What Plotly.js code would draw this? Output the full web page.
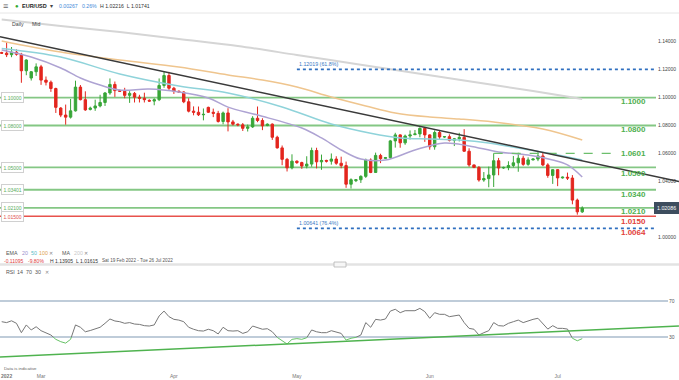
<!DOCTYPE html>
<html><head><meta charset="utf-8">
<script src="https://cdn.plot.ly/plotly-3.0.1.min.js"></script>
<style>html,body{margin:0;padding:0;background:#fff;}#chart{width:679px;height:380px;}</style>
</head><body><div id="chart"></div>
<script>
// ---------- DATA ----------
const dates = [
'2022-02-20','2022-02-21','2022-02-22','2022-02-23','2022-02-24','2022-02-25',
'2022-02-27','2022-02-28','2022-03-01','2022-03-02','2022-03-03','2022-03-04',
'2022-03-06','2022-03-07','2022-03-08','2022-03-09','2022-03-10','2022-03-11',
'2022-03-13','2022-03-14','2022-03-15','2022-03-16','2022-03-17','2022-03-18',
'2022-03-20','2022-03-21','2022-03-22','2022-03-23','2022-03-24','2022-03-25',
'2022-03-27','2022-03-28','2022-03-29','2022-03-30','2022-03-31','2022-04-01',
'2022-04-03','2022-04-04','2022-04-05','2022-04-06','2022-04-07','2022-04-08',
'2022-04-10','2022-04-11','2022-04-12','2022-04-13','2022-04-14','2022-04-15',
'2022-04-17','2022-04-18','2022-04-19','2022-04-20','2022-04-21','2022-04-22',
'2022-04-24','2022-04-25','2022-04-26','2022-04-27','2022-04-28','2022-04-29',
'2022-05-01','2022-05-02','2022-05-03','2022-05-04','2022-05-05','2022-05-06',
'2022-05-08','2022-05-09','2022-05-10','2022-05-11','2022-05-12','2022-05-13',
'2022-05-15','2022-05-16','2022-05-17','2022-05-18','2022-05-19','2022-05-20',
'2022-05-22','2022-05-23','2022-05-24','2022-05-25','2022-05-26','2022-05-27',
'2022-05-29','2022-05-30','2022-05-31','2022-06-01','2022-06-02','2022-06-03',
'2022-06-05','2022-06-06','2022-06-07','2022-06-08','2022-06-09','2022-06-10',
'2022-06-12','2022-06-13','2022-06-14','2022-06-15','2022-06-16','2022-06-17',
'2022-06-19','2022-06-20','2022-06-21','2022-06-22','2022-06-23','2022-06-24',
'2022-06-26','2022-06-27','2022-06-28','2022-06-29','2022-06-30','2022-07-01',
'2022-07-03','2022-07-04','2022-07-05','2022-07-06','2022-07-07'];

const open = [
1.1322,1.1318,1.1307,1.1325,1.1310,1.1192, 1.1140,1.1185,1.1220,1.1125,1.1110,1.1065,
1.0925,1.0875,1.0860,1.0905,1.1075,1.0985, 1.0915,1.0925,1.0940,1.0965,1.1033,1.1094,
1.1050,1.1045,1.1016,1.1030,1.1003,1.0995, 1.0980,1.0975,1.0985,1.1087,1.1158,1.1067,
1.1046,1.1040,1.0970,1.0903,1.0895,1.0877, 1.0930,1.0895,1.0887,1.0829,1.0890,1.0826,
1.0810,1.0805,1.0780,1.0790,1.0852,1.0836, 1.0800,1.0810,1.0716,1.0640,1.0558,1.0497,
1.0545,1.0535,1.0510,1.0524,1.0621,1.0540, 1.0550,1.0545,1.0560,1.0530,1.0513,1.0380,
1.0405,1.0412,1.0436,1.0553,1.0464,1.0586, 1.0565,1.0570,1.0690,1.0733,1.0676,1.0725,
1.0735,1.0740,1.0780,1.0733,1.0648,1.0750, 1.0718,1.0720,1.0694,1.0705,1.0715,1.0616,
1.0518,1.0500,1.0410,1.0420,1.0446,1.0548, 1.0496,1.0500,1.0514,1.0533,1.0566,1.0522,
1.0554,1.0560,1.0582,1.0518,1.0443,1.0484, 1.0425,1.0430,1.0424,1.0266,1.0182];
const high = [
1.1328,1.1395,1.1362,1.1345,1.1320,1.1274, 1.1190,1.1245,1.1234,1.1151,1.1122,1.1071,
1.0932,1.0950,1.0990,1.1121,1.1090,1.1045, 1.0935,1.0985,1.1020,1.1040,1.1137,1.1115,
1.1058,1.1070,1.1046,1.1040,1.1020,1.1035, 1.0988,1.0995,1.1137,1.1185,1.1184,1.1077,
1.1050,1.1045,1.0995,1.0937,1.0936,1.0922, 1.0935,1.0921,1.0905,1.0900,1.0924,1.0840,
1.0815,1.0818,1.0807,1.0867,1.0936,1.0852, 1.0815,1.0815,1.0727,1.0657,1.0568,1.0594,
1.0550,1.0541,1.0580,1.0642,1.0641,1.0592, 1.0555,1.0600,1.0580,1.0577,1.0542,1.0422,
1.0415,1.0444,1.0563,1.0565,1.0606,1.0598, 1.0575,1.0697,1.0748,1.0737,1.0735,1.0765,
1.0768,1.0787,1.0786,1.0737,1.0765,1.0764, 1.0725,1.0737,1.0711,1.0748,1.0774,1.0637,
1.0520,1.0510,1.0467,1.0506,1.0601,1.0568, 1.0505,1.0544,1.0582,1.0605,1.0584,1.0572,
1.0565,1.0615,1.0606,1.0530,1.0488,1.0488, 1.0435,1.0463,1.0445,1.0277,1.02216];
const low = [
1.1312,1.1290,1.1289,1.1300,1.1106,1.1160, 1.1122,1.1155,1.1091,1.1087,1.1041,1.0890,
1.0860,1.0806,1.0850,1.0900,1.0980,1.0905, 1.0908,1.0905,1.0930,1.0940,1.1020,1.1005,
1.1040,1.0995,1.0962,1.0965,1.0965,1.0965, 1.0970,1.0945,1.0975,1.1070,1.1055,1.1026,
1.1035,1.0960,1.0894,1.0873,1.0868,1.0837, 1.0890,1.0860,1.0821,1.0809,1.0758,1.0800,
1.0795,1.0761,1.0757,1.0783,1.0824,1.0767, 1.0795,1.0697,1.0635,1.0516,1.0471,1.0486,
1.0525,1.0490,1.0493,1.0505,1.0493,1.0483, 1.0535,1.0520,1.0519,1.0494,1.0354,1.0349,
1.0395,1.0389,1.0425,1.0459,1.0462,1.0531, 1.0560,1.0560,1.0642,1.0641,1.0662,1.0700,
1.0730,1.0716,1.0683,1.0627,1.0627,1.0704, 1.0712,1.0686,1.0653,1.0686,1.0612,1.0505,
1.0495,1.0398,1.0397,1.0358,1.0360,1.0444, 1.0490,1.0480,1.0500,1.0469,1.0512,1.0512,
1.0550,1.0545,1.0509,1.0426,1.0382,1.0366, 1.0420,1.0410,1.0236,1.0162,1.01741];
const close = [
1.1318,1.1307,1.1325,1.1310,1.1192,1.1269, 1.1185,1.1220,1.1125,1.1110,1.1065,1.0930,
1.0875,1.0860,1.0905,1.1075,1.0985,1.0912, 1.0925,1.0940,1.0965,1.1033,1.1094,1.1050,
1.1045,1.1016,1.1030,1.1003,1.0995,1.0985, 1.0975,1.0985,1.1087,1.1158,1.1067,1.1046,
1.1040,1.0970,1.0903,1.0895,1.0877,1.0880, 1.0895,1.0887,1.0829,1.0890,1.0826,1.0810,
1.0805,1.0780,1.0790,1.0852,1.0836,1.0798, 1.0810,1.0716,1.0640,1.0558,1.0497,1.0545,
1.0535,1.0510,1.0524,1.0621,1.0540,1.0550, 1.0545,1.0560,1.0530,1.0513,1.0380,1.0412,
1.0412,1.0436,1.0553,1.0464,1.0586,1.0563, 1.0570,1.0690,1.0733,1.0676,1.0725,1.0733,
1.0740,1.0780,1.0733,1.0648,1.0750,1.0718, 1.0720,1.0694,1.0705,1.0715,1.0616,1.0518,
1.0500,1.0410,1.0420,1.0446,1.0548,1.0496, 1.0500,1.0514,1.0533,1.0566,1.0522,1.0554,
1.0560,1.0582,1.0518,1.0443,1.0484,1.0425, 1.0430,1.0424,1.0266,1.0182,1.02086];

const rsi = [
47,46,48,45.2,34.8,43.4, 37.8,41.4,37,34.8,32.2,27.4,
24.8,23.2,27.4,43.4,40.8,35.8, 37.2,38.6,40.8,45.2,50,47.8,
47,45.2,46,44.4,44,42.6, 42.2,43.4,53.4,58.8,52.6,49.6,
48.8,47,40.8,38.6,37,36.6, 38.6,37,33.4,40.8,37,36.6,
37,34,35.8,42.2,40.8,38.6, 39.2,35.8,29.6,25.8,22.2,27.4,
28.2,27.4,29.2,37.8,35.8,34.8, 34.8,37,35.6,34,26.6,28.6,
29.6,32.2,46,40.8,49.6,48.8, 50,58.8,60.8,57,59.2,59.2,
59.2,61.8,58.2,50.8,57,55.2, 55.2,52.6,53.4,54.4,46,39.6,
38.6,32.2,34.8,37,46,42.6, 42.2,45.2,47,48.8,46,48.2,
49.6,50.8,45.2,38.8,42.6,39.6, 39.6,38.8,28.6,25.8,28.2];

const ema20Dates = ['2022-02-20','2022-02-27','2022-03-06','2022-03-10','2022-03-15','2022-03-20','2022-03-27','2022-04-03','2022-04-10','2022-04-14','2022-04-21','2022-05-02','2022-05-06','2022-05-11','2022-05-16','2022-05-22','2022-05-29','2022-06-05','2022-06-10','2022-06-17','2022-06-24','2022-06-30','2022-07-04','2022-07-07'];
const ema20 = [1.1341,1.1290,1.1212,1.1140,1.1090,1.1054,1.1061,1.1040,1.0997,1.0932,1.0875,1.0782,1.0711,1.0625,1.0560,1.0553,1.0625,1.0675,1.0654,1.0611,1.0589,1.0553,1.0518,1.0432];
const ema50Dates = ['2022-02-20','2022-03-06','2022-03-20','2022-04-03','2022-04-14','2022-04-27','2022-05-09','2022-05-18','2022-05-25','2022-06-01','2022-06-08','2022-06-15','2022-06-22','2022-06-29','2022-07-07'];
const ema50 = [1.1351,1.1290,1.1169,1.1083,1.1033,1.0933,1.0811,1.0745,1.0711,1.0704,1.0696,1.0675,1.0639,1.0603,1.0553];
const ema100Dates = ['2022-02-20','2022-03-06','2022-03-20','2022-04-03','2022-04-14','2022-04-22','2022-05-01','2022-05-09','2022-05-17','2022-05-24','2022-06-01','2022-06-08','2022-06-16','2022-06-28','2022-07-07'];
const ema100 = [1.1405,1.1326,1.1269,1.1219,1.1162,1.1126,1.1076,1.1004,1.0940,1.0890,1.0861,1.0847,1.0825,1.0775,1.0696];
const ma200Dates = ['2022-02-20','2022-03-06','2022-03-20','2022-04-03','2022-04-17','2022-05-01','2022-05-15','2022-05-29','2022-06-12','2022-06-26','2022-07-07'];
const ma200 = [1.1559,1.1512,1.1469,1.1419,1.1369,1.1305,1.1240,1.1176,1.1112,1.1047,1.0990];

// horizontal levels
const greenLevels = [1.10000,1.08000,1.05000,1.03401,1.02100];
const greenLeftTags = ['1.10000','1.08000','1.05000','1.03401','1.02100'];
const redLevel = 1.01500, redLeftTag = '1.01500';
const rightLabels = ['1.1000','1.0800','1.0601','1.0500','1.0340','1.0210','1.0150','1.0064'];
const rightLabelPrices = [1.1000,1.0800,1.0601,1.0500,1.0340,1.0210,1.0150,1.0064];
const dashedLevel = 1.0601, dashedFrom = 100, dashedTo = 124.6;     // candle index span
const fibPrices = [1.12019, 1.00641];
const fibTags = ['1.12019 (61.8%)', '1.00641 (76.4%)'];
const fibFrom = 60;
const trendPrice = [1.1435, 1.0400], trendIdx = [-0.3455, 137.66];
const rsiTrend = [7.8, 42.2];
const lastPrice = 1.02086;
const priceTicks = [1.00,1.04,1.06,1.08,1.10,1.12,1.14];
const monthTicks = ['2022-02-21','2022-03-01','2022-04-01','2022-05-01','2022-06-01','2022-07-01'];
const monthText = ['<b>2022</b>','Mar','Apr','May','Jun','Jul'];

// ---------- GEOMETRY ----------
const PW = 652, PB = 368, PH = 354;
const XR = [-0.3455, 132.18];
const YR = [0.98016, 1.15983];
const MD = [0.29096, 1];
const RU = [0.08757, 0.28249], RR = [30, 106.667];
const RL = [0, 0.08757], RLR = [-4.444, 30];
const F = 'Liberation Sans, Arial, sans-serif';
const xp = i => (i - XR[0]) / (XR[1] - XR[0]);
const yp = p => MD[0] + (p - YR[0]) / (YR[1] - YR[0]) * (MD[1] - MD[0]);
const yr = v => RU[0] + (v - RR[0]) / (RR[1] - RR[0]) * (RU[1] - RU[0]);
const px = x => x / PW;
const py = y => (PB - y) / PH;

const GREEN = '#38a638', RED = '#e3261e';
const traces = [
  {type:'candlestick', x:dates, open, high, low, close, xaxis:'x', yaxis:'y',
   increasing:{line:{color:GREEN,width:1},fillcolor:GREEN},
   decreasing:{line:{color:RED,width:1},fillcolor:RED}, whiskerwidth:0, hoverinfo:'skip'},
  {type:'scatter', mode:'lines', x:ma200Dates, y:ma200, line:{color:'#d5d5d5',width:2,shape:'spline'}, xaxis:'x', yaxis:'y'},
  {type:'scatter', mode:'lines', x:ema100Dates, y:ema100, line:{color:'#efc58e',width:1.5,shape:'spline'}, xaxis:'x', yaxis:'y'},
  {type:'scatter', mode:'lines', x:ema50Dates, y:ema50, line:{color:'#8fd3da',width:1.5,shape:'spline'}, xaxis:'x', yaxis:'y'},
  {type:'scatter', mode:'lines', x:ema20Dates, y:ema20, line:{color:'#aea3d3',width:1.5,shape:'spline'}, xaxis:'x', yaxis:'y'},
  {type:'scatter', mode:'lines', x:dates, y:rsi, line:{color:'#777',width:1}, xaxis:'x', yaxis:'y2'},
  {type:'scatter', mode:'lines', x:dates, y:rsi, line:{color:'#66c266',width:1}, xaxis:'x', yaxis:'y3'}
];

const shapes = [];
const L = (x0,y0,x1,y1,color,width,dash,layer) => shapes.push({type:'line',xref:'paper',yref:'paper',x0,y0,x1,y1,line:{color,width,dash:dash||'solid'},layer:layer||'above'});
L(0, py(13), 679/PW, py(13), '#e6e6e6', 1);
L(0, py(264.5), 679/PW, py(264.5), '#e3e3e3', 2.5);
shapes.push({type:'rect',xref:'paper',yref:'paper',x0:px(334),x1:px(346),y0:py(267),y1:py(262),fillcolor:'#f6f6f6',line:{color:'#b5b5b5',width:0.8}});
L(0, yr(70), 668/PW, yr(70), '#bfccd9', 2, null, 'below');
L(0, yr(30), 668/PW, yr(30), '#bfccd9', 2, null, 'below');
L(xp(trendIdx[0]), yr(rsiTrend[0]), xp(trendIdx[1]), yr(rsiTrend[1]), '#4fb34f', 1.5);
greenLevels.forEach(p => L(0, yp(p), 656/PW, yp(p), '#84c784', 1.8, null, 'below'));
L(0, yp(redLevel), 656/PW, yp(redLevel), '#e8524c', 1.5, null, 'below');
L(xp(dashedFrom), yp(dashedLevel), xp(dashedTo), yp(dashedLevel), '#6cbf6c', 1.3, 'dash');
fibPrices.forEach(p => L(xp(fibFrom), yp(p), 656/PW, yp(p), '#2f6fbf', 1.6, 'dot'));
L(xp(trendIdx[0]), yp(trendPrice[0]), xp(trendIdx[1]), yp(trendPrice[1]), '#3a3a3a', 1.5);

const annotations = [];
const T = (text, x, y, size, color, opt) => annotations.push(Object.assign({text, xref:'paper', yref:'paper', x, y, xanchor:'left', yanchor:'middle', showarrow:false, font:{family:F,size,color}}, opt||{}));
// left level tags
greenLevels.forEach((p,k) => T(greenLeftTags[k], 0.002, yp(p), 5, '#5aad5a', {bgcolor:'#fff', bordercolor:'#d0d0d0', borderwidth:1, borderpad:1.5}));
T(redLeftTag, 0.002, yp(redLevel), 5, '#e05050', {bgcolor:'#fff', bordercolor:'#d0d0d0', borderwidth:1, borderpad:1.5});
// right big labels (pixel offset of label centre below its line)
const labelDrop = [4, 4.4, 0, 6, 4.7, 3.5, 5.2, 3.7];
rightLabels.forEach((t,k) => {
  const red = rightLabelPrices[k] < 1.018;
  T('<b>'+t+'</b>', px(633), yp(rightLabelPrices[k]), 8, red ? '#e2413b' : '#4faf4f', {xanchor:'center', yanchor:'middle', yshift:-labelDrop[k]});
});
fibPrices.forEach((p,k) => T(fibTags[k], xp(fibFrom), yp(p), 5.3, '#3a78c4', {yanchor:'bottom', yshift:0}));
T(lastPrice.toFixed(5), px(666), yp(lastPrice), 5.3, '#ffffff', {xanchor:'center', bgcolor:'#3d4d5e', bordercolor:'#3d4d5e', borderpad:2});
T('70', px(672), yr(70), 5, '#555', {xanchor:'center'});
T('30', px(672), yr(30), 5, '#555', {xanchor:'center'});
// header rows
T('≡', px(1), py(6), 9, '#666');
T('●', px(13), py(6), 6, '#2fa82f');
T('<b>EUR/USD</b>', px(20), py(6), 5.5, '#222');
T('▾', px(48), py(6), 6, '#444');
T('0.00267', px(57), py(6), 5.2, '#3f8ad8');
T('0.26%', px(80), py(6), 5.2, '#3f8ad8');
T('H 1.02216  L 1.01741', px(98), py(6), 5.2, '#333');
T('Daily', px(10), py(24), 5.2, '#444');
T('Mid', px(30), py(24), 5.2, '#444');
T('EMA', px(4), py(252.7), 5.3, '#555');
T('20', px(20), py(252.7), 5.3, '#9a8fcc');
T('50', px(29), py(252.7), 5.3, '#58bcc7');
T('100', px(37), py(252.7), 5.3, '#e0a24c');
T('✕', px(47), py(252.7), 5, '#888');
T('MA', px(60), py(252.7), 5.3, '#555');
T('200', px(72), py(252.7), 5.3, '#c8c8c8');
T('✕', px(82), py(252.7), 5, '#888');
T('-0.11095', px(2), py(260.7), 5, '#e03a3a');
T('-9.80%', px(26), py(260.7), 5, '#e03a3a');
T('H 1.13905', px(48), py(260.7), 5, '#333');
T('L 1.01615', px(74), py(260.7), 5, '#333');
T('Sat 19 Feb 2022 - Tue 26 Jul 2022', px(100), py(260.7), 4.6, '#555');
T('RSI', px(4), py(272), 5.3, '#555');
T('14', px(15), py(272), 5.3, '#555');
T('70', px(24), py(272), 5.3, '#555');
T('30', px(33), py(272), 5.3, '#555');
T('✕', px(43), py(272), 5, '#888');
T('Data is indicative', px(2), py(369), 4.3, '#666');

const layout = {
  width:679, height:380, margin:{l:0,r:27,t:14,b:12},
  paper_bgcolor:'#fff', plot_bgcolor:'rgba(0,0,0,0)', showlegend:false, hovermode:false,
  xaxis:{type:'category', range:XR, anchor:'y3', showgrid:false, zeroline:false, showline:false,
         rangeslider:{visible:false}, tickmode:'array', tickvals:monthTicks, ticktext:monthText,
         ticks:'outside', ticklen:3, tickcolor:'rgba(0,0,0,0)', tickfont:{family:F,size:5,color:'#777'}},
  yaxis:{domain:MD, range:YR, side:'right', anchor:'x', showgrid:false, zeroline:false, showline:false,
         tickmode:'array', tickvals:priceTicks, tickformat:'.5f', ticks:'outside', ticklen:4,
         tickcolor:'rgba(0,0,0,0)', tickfont:{family:F,size:5,color:'#444'}},
  yaxis2:{domain:RU, range:RR, anchor:'x', visible:false},
  yaxis3:{domain:RL, range:RLR, anchor:'x', visible:false},
  shapes, annotations
};
Plotly.newPlot('chart', traces, layout, {staticPlot:true, displayModeBar:false});
</script></body></html>
